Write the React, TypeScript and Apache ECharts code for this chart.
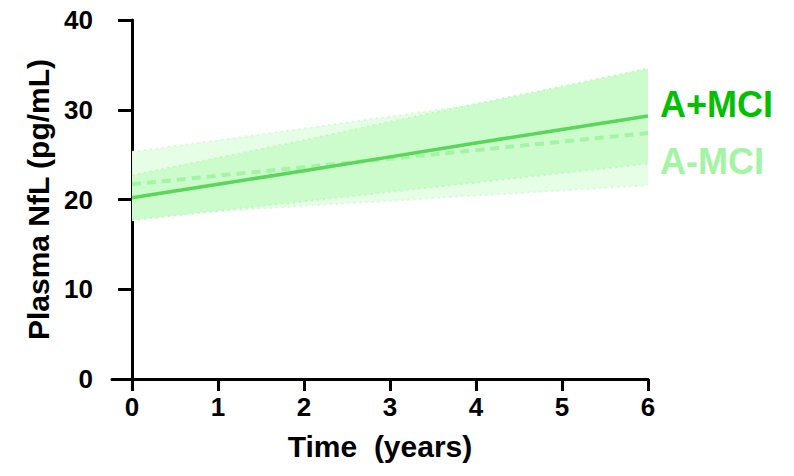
import React, { useEffect, useRef } from "react";
import * as echarts from "echarts";

const years = [0, 1, 2, 3, 4, 5, 6];
const xTicks = [0, 1, 2, 3, 4, 5, 6];
const posMean = [20.2, 21.7, 23.2, 24.75, 26.3, 27.8, 29.3];
const posLower = [17.7, 18.75, 19.8, 20.85, 21.9, 22.95, 24.0];
const posUpper = [22.7, 24.65, 26.6, 28.65, 30.65, 32.6, 34.6];
const negMean = [21.7, 22.65, 23.6, 24.55, 25.5, 26.45, 27.4];
const negLower = [18.1, 18.7, 19.3, 19.85, 20.45, 21.0, 21.6];
const negUpper = [25.3, 26.6, 27.9, 29.25, 30.55, 31.9, 33.2];

const FONT = "'Liberation Sans', Arial, sans-serif";

function pairs(xs: number[], ys: number[]) {
  return xs.map((x, i) => [x, ys[i]]);
}

export default function App() {
  const ref = useRef<HTMLDivElement>(null);
  useEffect(() => {
    document.body.style.margin = "0";
    const chart = echarts.init(ref.current!, null, { renderer: "svg" });
    const band = (lo: number[], hi: number[], fill: string, edge: string, z: number) => ({
      type: "custom",
      silent: true,
      z,
      data: years.map((t, i) => [t, lo[i], hi[i]]),
      encode: { x: 0, y: [1, 2] },
      renderItem: (params: any, api: any) => {
        if (params.dataIndex !== 0) return null;
        const upper = years.map((t, i) => api.coord([t, hi[i]]));
        const lower = years.map((t, i) => api.coord([t, lo[i]]));
        const poly = upper.concat(lower.slice().reverse());
        return {
          type: "group",
          children: [
            { type: "polygon", shape: { points: poly }, style: { fill, stroke: "none" } },
            {
              type: "polyline",
              shape: { points: upper },
              style: { stroke: edge, lineWidth: 2, lineDash: [2, 4], fill: "none" },
            },
            {
              type: "polyline",
              shape: { points: lower },
              style: { stroke: edge, lineWidth: 2, lineDash: [2, 4], fill: "none" },
            },
          ],
        };
      },
    });
    chart.setOption({
      animation: false,
      grid: { left: 112, right: 146, top: 20, bottom: 97 },
      xAxis: {
        type: "value",
        min: -0.233,
        max: 6,
        splitLine: { show: false },
        axisLine: { show: true, onZero: false, lineStyle: { color: "#000", width: 3 } },
        axisTick: {
          show: true,
          customValues: xTicks,
          length: 12,
          lineStyle: { color: "#000", width: 3 },
        },
        axisLabel: {
          customValues: xTicks,
          color: "#000",
          fontFamily: FONT,
          fontWeight: "bold",
          fontSize: 26,
          margin: 15,
        },
        name: "Time  (years)",
        nameLocation: "middle",
        nameGap: 52,
        nameTextStyle: { color: "#000", fontFamily: FONT, fontWeight: "bold", fontSize: 30 },
      },
      yAxis: {
        type: "value",
        min: 0,
        max: 40,
        interval: 10,
        splitLine: { show: false },
        axisLine: { show: true, lineStyle: { color: "#000", width: 3 } },
        axisTick: { show: true, length: 14, lineStyle: { color: "#000", width: 3 } },
        axisLabel: {
          color: "#000",
          fontFamily: FONT,
          fontWeight: "bold",
          fontSize: 26,
          margin: 19,
        },
        name: "Plasma NfL (pg/mL)",
        nameLocation: "middle",
        nameGap: 59,
        nameTextStyle: { color: "#000", fontFamily: FONT, fontWeight: "bold", fontSize: 30 },
      },
      series: [
        band(negLower, negUpper, "#e6fde6", "#d6fad6", 1),
        band(posLower, posUpper, "#ccfccc", "#c0f6c0", 2),
        {
          name: "A-MCI",
          type: "line",
          data: pairs(years, negMean),
          symbol: "none",
          lineStyle: { color: "#a3f5a3", width: 4, type: [9, 6] },
          z: 3,
        },
        {
          name: "A+MCI",
          type: "line",
          data: pairs(years, posMean),
          symbol: "none",
          lineStyle: { color: "#5ad65a", width: 3.5 },
          z: 4,
        },
      ],
      graphic: [
        {
          type: "text",
          left: 660,
          top: 86,
          style: {
            text: "A+MCI",
            fill: "#00c000",
            font: "bold 36px 'Liberation Sans', Arial, sans-serif",
          },
        },
        {
          type: "text",
          left: 660,
          top: 143,
          style: {
            text: "A-MCI",
            fill: "#a3f5a3",
            font: "bold 36px 'Liberation Sans', Arial, sans-serif",
          },
        },
      ],
    });
    return () => chart.dispose();
  }, []);
  return <div ref={ref} style={{ width: 794, height: 476 }} />;
}
